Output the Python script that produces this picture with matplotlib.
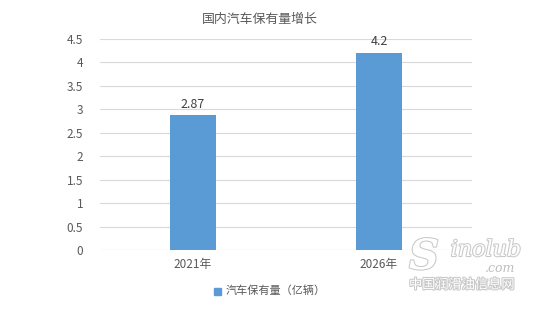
import matplotlib
matplotlib.use("Agg")

import matplotlib.pyplot as plt
from matplotlib.patches import Rectangle
import matplotlib.patheffects as pe

plt.rcParams["font.family"] = ["Noto Sans CJK SC", "DejaVu Sans"]

# --- Data ---
years = ["2021年", "2026年"]
ownership = [2.87, 4.2]
yticks = [0, 0.5, 1, 1.5, 2, 2.5, 3, 3.5, 4, 4.5]
ytick_labels = ["0", "0.5", "1", "1.5", "2", "2.5", "3", "3.5", "4", "4.5"]
title = "国内汽车保有量增长"
series_name = "汽车保有量（亿辆）"

BAR = "#5B9BD5"
GRID = "#D9D9D9"
TXT = "#595959"

fig = plt.figure(figsize=(5.5, 3.09), dpi=100)
ax = fig.add_axes([100 / 550, 1 - 250 / 309, 372 / 550, 211 / 309])

x = list(range(len(years)))
bars = ax.bar(x, ownership, width=0.25, color=BAR, zorder=3, label=series_name)

for xi, v in zip(x, ownership):
    ax.text(xi, v + 0.1, f"{v:g}", ha="center", va="bottom",
            fontsize=9, color="#404040")

ax.set_xlim(-0.5, 1.5)
ax.set_ylim(0, 4.5)
ax.set_yticks(yticks)
ax.set_yticklabels(ytick_labels)
ax.set_xticks(x)
ax.set_xticklabels(years)
ax.yaxis.grid(True, color=GRID, linewidth=0.8, zorder=0)
ax.tick_params(axis="both", length=0, labelsize=8.5, colors=TXT)
ax.tick_params(axis="y", pad=12)
ax.tick_params(axis="x", pad=6)
for s in ax.spines.values():
    s.set_visible(False)
ax.axhline(0, color=GRID, linewidth=0.8, zorder=1)

fig.text(260 / 550, 1 - 19 / 309, title, ha="center", va="center",
         fontsize=9.3, color=TXT)

# legend
fig.patches.append(Rectangle((214 / 550, 1 - 295 / 309), 7 / 550, 7 / 309,
                             transform=fig.transFigure, color=BAR))
fig.text(226 / 550, 1 - 291 / 309, series_name, ha="left", va="center",
         fontsize=8, color=TXT)

# watermark
outline = [pe.withStroke(linewidth=1.5, foreground="#C8C8C8")]
fig.text(424 / 550, 1 - 257 / 309, "S", ha="center", va="center", fontsize=30,
         fontweight="bold", style="italic", color="white", family="DejaVu Serif",
         path_effects=outline)
fig.text(486 / 550, 1 - 250 / 309, "inolub", ha="center", va="center", fontsize=16,
         style="italic", color="white", family="DejaVu Serif", path_effects=outline)
fig.text(500 / 550, 1 - 268 / 309, ".com", ha="center", va="center", fontsize=9,
         style="italic", color="#BEBEBE", family="DejaVu Serif")
fig.text(462 / 550, 1 - 285 / 309, "中国润滑油信息网", ha="center", va="center",
         fontsize=9.5, color="white", path_effects=outline)

fig.savefig("out.png", dpi=100)
